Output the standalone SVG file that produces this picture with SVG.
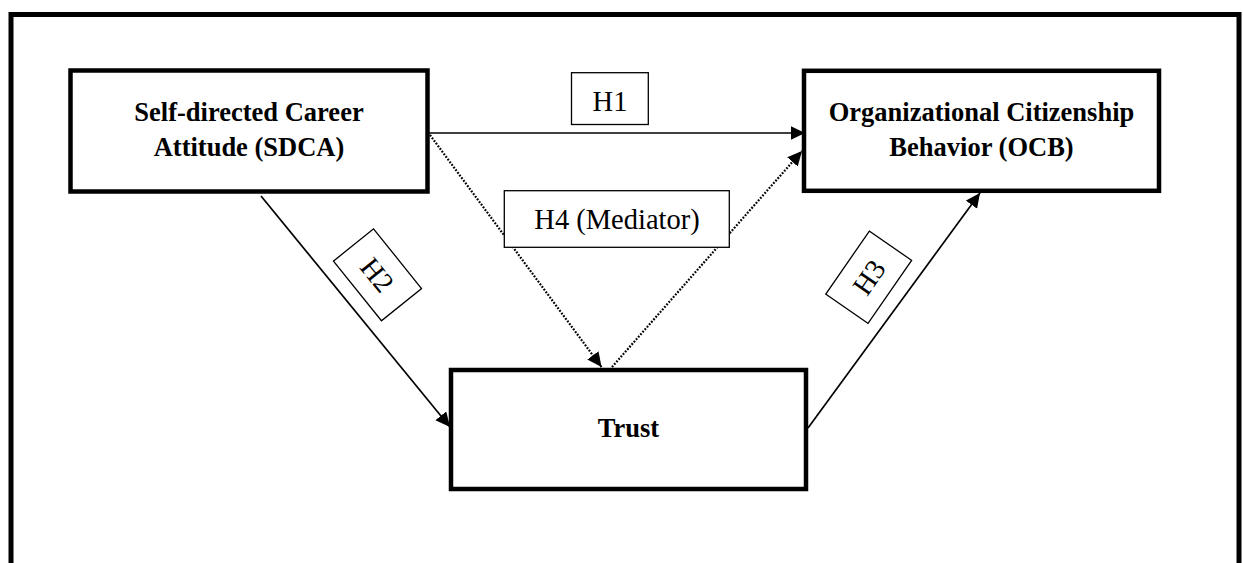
<svg xmlns="http://www.w3.org/2000/svg" width="1243" height="563" viewBox="0 0 1243 563">
<style>
.node{fill:#fff;stroke:#000;stroke-width:4.5;}
.lbl{fill:#fff;stroke:#000;stroke-width:1.3;}
.bt{font-family:"Liberation Serif","Times New Roman",serif;font-weight:bold;font-size:26.5px;text-anchor:middle;fill:#000;}
.lt{font-family:"Liberation Serif","Times New Roman",serif;font-size:28.5px;text-anchor:middle;fill:#000;}
.solid{stroke:#000;stroke-width:1.7;fill:none;}
.dot{stroke:#000;stroke-width:2.2;stroke-dasharray:1.8 1.5;fill:none;}
</style>
<defs>
<marker id="arr" markerUnits="userSpaceOnUse" markerWidth="16" markerHeight="15" refX="14.5" refY="7" orient="auto">
<path d="M0,0 L14.5,7 L0,14 z" fill="#000"/>
</marker>
</defs>
<rect x="0" y="0" width="1243" height="563" fill="#fff"/>
<rect id="frame" x="11" y="14.5" width="1228" height="600" fill="none" stroke="#000" stroke-width="5"/>
<g id="connectors">
<line class="solid" x1="428" y1="133" x2="805" y2="133" marker-end="url(#arr)"/>
<line class="dot" x1="430" y1="135" x2="601.5" y2="367" marker-end="url(#arr)"/>
<line class="dot" x1="612" y1="367" x2="802" y2="151" marker-end="url(#arr)"/>
<line class="solid" x1="261" y1="196" x2="450" y2="427" marker-end="url(#arr)"/>
<line class="solid" x1="808" y1="428" x2="980" y2="193" marker-end="url(#arr)"/>
</g>
<g id="sdca">
<rect class="node" x="70.5" y="70.5" width="357" height="121"/>
<text class="bt" x="249" y="120.5">Self-directed Career</text>
<text class="bt" x="249" y="156">Attitude (SDCA)</text>
</g>
<g id="ocb">
<rect class="node" x="804" y="70.8" width="355" height="120"/>
<text class="bt" x="981.5" y="120.5">Organizational Citizenship</text>
<text class="bt" x="981.5" y="156">Behavior (OCB)</text>
</g>
<g id="trust">
<rect class="node" x="451" y="370" width="355" height="119"/>
<text class="bt" x="628.5" y="436.5">Trust</text>
</g>
<g id="h1">
<rect class="lbl" x="571.5" y="72.7" width="76.8" height="51.8"/>
<text class="lt" x="610" y="110.7">H1</text>
</g>
<g id="h4">
<rect class="lbl" x="504.3" y="190.7" width="225" height="56.6"/>
<text class="lt" x="617" y="228.5">H4 (Mediator)</text>
</g>
<g id="h2" transform="translate(377.5,274.8) rotate(51.2)">
<rect class="lbl" x="-38.3" y="-25.7" width="76.6" height="51.4"/>
<text class="lt" x="0" y="10">H2</text>
</g>
<g id="h3" transform="translate(868.7,277.2) rotate(-55.3)">
<rect class="lbl" x="-38.3" y="-25.7" width="76.6" height="51.4"/>
<text class="lt" x="0" y="10">H3</text>
</g>
</svg>
